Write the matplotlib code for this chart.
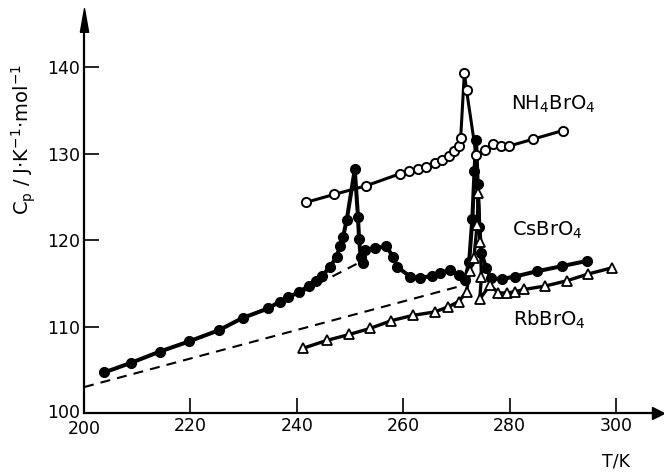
import numpy as np
import matplotlib.pyplot as plt

# heat capacity data
cs_T = [203.8, 208.8, 214.2, 219.8, 225.4, 229.8, 234.6, 236.8, 238.4, 240.4,
        242.2, 243.6, 244.8, 246.2, 247.5, 248.1, 248.7, 249.4, 250.9, 251.5,
        251.7, 252.0, 252.4, 252.9, 254.7, 256.8, 258.1, 258.9, 261.3, 263.2,
        265.4, 267.0, 268.8, 270.4, 271.6, 272.4, 273.0, 273.4, 273.7, 274.0,
        274.3, 274.7, 275.6, 276.5, 278.5, 281.0, 285.1, 289.8, 294.5]
cs_cp = [104.7, 105.8, 107.1, 108.3, 109.6, 111.0, 112.1, 112.9, 113.4, 114.0,
         114.7, 115.3, 115.9, 116.9, 118.1, 119.3, 120.4, 122.4, 128.2, 122.7,
         120.2, 118.1, 117.4, 118.9, 119.1, 119.3, 118.1, 116.9, 115.8, 115.6,
         115.9, 116.2, 116.6, 116.0, 115.4, 117.5, 122.5, 128.0, 131.6, 126.5,
         121.5, 118.5, 116.8, 115.6, 115.5, 115.8, 116.4, 117.0, 117.6]

nh4_T = [241.8, 247.0, 253.0, 259.4, 261.0, 262.7, 264.3, 265.9, 267.3, 268.7,
         269.6, 270.4, 270.8, 271.5, 271.9, 273.7, 275.4, 276.9, 278.4, 279.9,
         284.4, 290.0]
nh4_cp = [124.4, 125.3, 126.3, 127.7, 128.0, 128.3, 128.5, 128.9, 129.3, 129.8,
          130.3, 130.9, 131.8, 139.4, 137.4, 129.9, 130.5, 131.1, 130.9, 130.9,
          131.7, 132.7]

rb_T = [241.2, 245.6, 249.9, 253.8, 257.8, 261.8, 265.9, 268.5, 270.4, 271.9,
        272.5, 273.3, 273.9, 274.1, 274.5, 274.7, 274.4, 276.3, 277.9, 279.6,
        281.0, 282.7, 286.7, 290.7, 294.8, 299.2]
rb_cp = [107.5, 108.4, 109.1, 109.8, 110.7, 111.3, 111.7, 112.3, 112.9, 114.0,
         116.4, 118.0, 121.8, 125.5, 119.8, 115.8, 113.2, 114.8, 113.9, 113.9,
         114.05, 114.3, 114.7, 115.3, 116.1, 116.8]

# dashed base lines
base_T = [200.0, 272.0]
base_cp = [103.0, 114.9]
base2_T = [241.0, 252.0]
base2_cp = [114.0, 117.5]

xticks = [220, 240, 260, 280, 300]
yticks = [110, 120, 130, 140]

fig = plt.figure(figsize=(6.64, 4.73), dpi=100)
ax = fig.add_axes([0.1265, 0.1268, 0.8645, 0.8310])

ax.plot(base_T, base_cp, color='black', lw=1.5, ls=(0, (4.8, 3.4)))
ax.plot(base2_T, base2_cp, color='black', lw=1.5, ls=(0, (4.8, 3.4)))

ax.plot(cs_T, cs_cp, color='black', lw=2.9, marker='o', ms=7,
        mfc='black', mec='black', zorder=3)
ax.plot(nh4_T, nh4_cp, color='black', lw=2.2, marker='o', ms=6.6,
        mfc='white', mec='black', mew=1.4, zorder=4)
ax.plot(rb_T, rb_cp, color='black', lw=2.4, marker='^', ms=7.5,
        mfc='white', mec='black', mew=1.3, zorder=5)

ax.set_xlim(200, 307.9)
ax.set_ylim(100, 145.5)
ax.set_xticks(xticks)
ax.set_yticks(yticks)
ax.tick_params(direction='in', length=11, width=1.2, labelsize=12.5, pad=3)

ax.spines['top'].set_visible(False)
ax.spines['right'].set_visible(False)
ax.spines['left'].set_linewidth(1.6)
ax.spines['bottom'].set_linewidth(1.6)

# arrow heads on the axes
ax.plot(1, 0, '>', color='black', ms=9, transform=ax.transAxes, clip_on=False)
up_head = [(-0.35, -1), (0.35, -1), (0, 1), (-0.35, -1)]
ax.plot(0, 1, marker=up_head, color='black', ms=17, transform=ax.transAxes,
        clip_on=False)

# axis labels
fig.text(0.036, 0.705, r'C$_\mathrm{p}$ / J$\cdot$K$^{-1}$$\cdot$mol$^{-1}$',
         rotation=90, fontsize=14, ha='center', va='center')
ax.annotate('T/K', xy=(300, 0.025), xycoords=('data', 'figure fraction'),
            ha='center', va='center', fontsize=12.5)
ax.annotate('200', xy=(200, 0.1268), xycoords=('data', 'figure fraction'),
            xytext=(0, -5), textcoords='offset points',
            ha='center', va='top', fontsize=12.5)
ax.annotate('100', xy=(0.1265, 100), xycoords=('figure fraction', 'data'),
            xytext=(-3, 0), textcoords='offset points',
            ha='right', va='center', fontsize=12.5)

# series labels
ax.text(280.3, 135.7, r'NH$_4$BrO$_4$', fontsize=14, va='center')
ax.text(280.5, 121.2, r'CsBrO$_4$', fontsize=14, va='center')
ax.text(280.6, 110.8, r'RbBrO$_4$', fontsize=14, va='center')

plt.savefig("out.png")
